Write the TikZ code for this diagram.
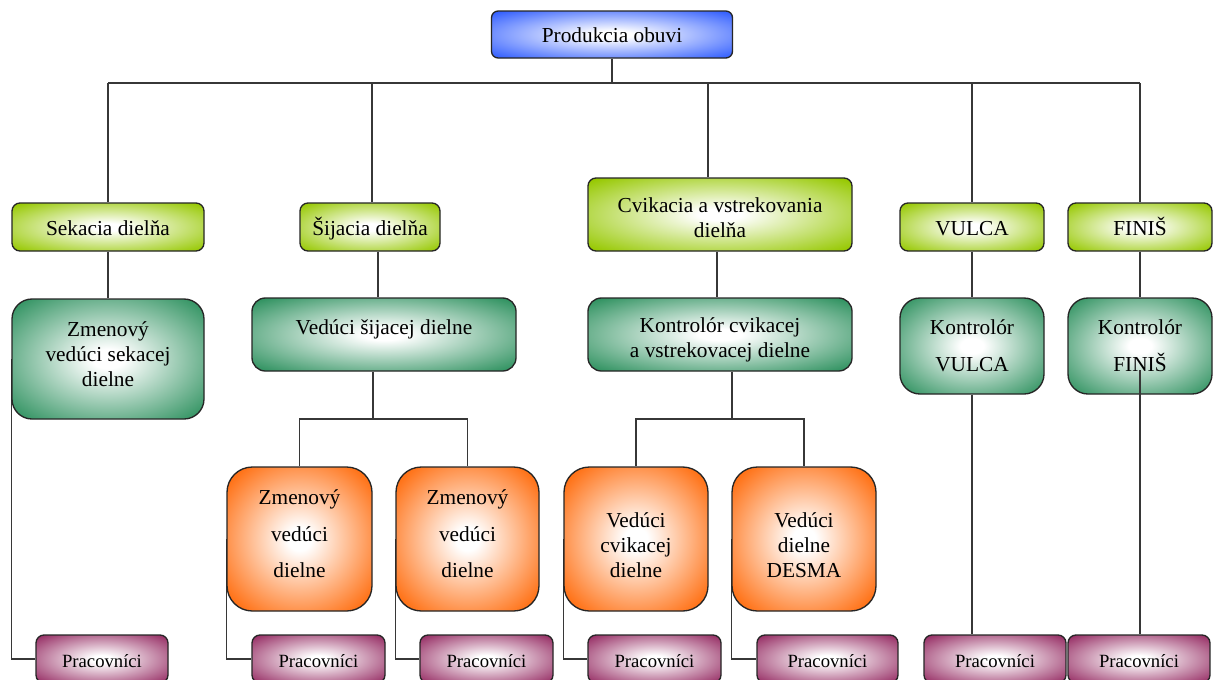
\documentclass[tikz,border=0pt]{standalone}
\usepackage{fontspec}
\setmainfont{Liberation Serif}
\usetikzlibrary{backgrounds,calc}

% box colours
\definecolor{cblue}{RGB}{51,95,255}
\definecolor{clgreen}{RGB}{150,200,0}
\definecolor{cdgreen}{RGB}{46,145,95}
\definecolor{corange}{RGB}{255,100,0}
\definecolor{cpurple}{RGB}{150,45,100}
\definecolor{cline}{RGB}{55,55,55}

% white centre fading out to the box colour
\pgfdeclareradialshading{glowblue}{\pgfpointorigin}{color(0bp)=(white); color(4bp)=(white); color(34bp)=(cblue); color(50bp)=(cblue)}
\pgfdeclareradialshading{glowlgreen}{\pgfpointorigin}{color(0bp)=(white); color(4bp)=(white); color(34bp)=(clgreen); color(50bp)=(clgreen)}
\pgfdeclareradialshading{glowdgreen}{\pgfpointorigin}{color(0bp)=(white); color(4bp)=(white); color(34bp)=(cdgreen); color(50bp)=(cdgreen)}
\pgfdeclareradialshading{gloworange}{\pgfpointorigin}{color(0bp)=(white); color(4bp)=(white); color(34bp)=(corange); color(50bp)=(corange)}
\pgfdeclareradialshading{glowpurple}{\pgfpointorigin}{color(0bp)=(white); color(4bp)=(white); color(34bp)=(cpurple); color(50bp)=(cpurple)}

\tikzset{
  org/.style={draw=black!85, line width=1pt, align=center, inner sep=2pt,
              font=\fontsize{16}{18.75}\selectfont},
  dim/.style 2 args={minimum width=#1*0.75pt, minimum height=#2*0.75pt},
  oneline/.style={text height=13pt, text depth=1pt},
  topbox/.style={org, oneline, shading=glowblue, rounded corners=5pt},
  deptbox/.style={org, shading=glowlgreen, rounded corners=6pt},
  chiefbox/.style={org, shading=glowdgreen, rounded corners=10pt},
  tallchief/.style={org, shading=glowdgreen, rounded corners=15pt},
  leadbox/.style={org, shading=gloworange, rounded corners=19pt},
  crewbox/.style={org, oneline, shading=glowpurple, rounded corners=6pt,
                  font=\fontsize{14}{16}\selectfont},
  airy/.style={font=\fontsize{16}{27.5}\selectfont},
  inbox/.style={align=center, inner sep=0pt, font=\fontsize{16}{18.75}\selectfont},
  linkline/.style={draw=cline, line width=0.9pt}
}

\begin{document}
\begin{tikzpicture}[x=0.75pt, y=-0.75pt]
\useasboundingbox (0,0) rectangle (1216,679);
\clip (0,0) rectangle (1216,679);

% top
\node[topbox, dim={241}{47}] (top) at (612,34.5) {Produkcia obuvi};

% workshops
\node[deptbox, oneline, dim={192}{48}] (sek)  at (108,227)    {Sekacia dielňa};
\node[deptbox, oneline, dim={140}{48}] (sij)  at (370,227)    {Šijacia dielňa};
\node[deptbox, dim={264}{73}] (cvik) at (720,214.5)  {};
\node[deptbox, oneline, dim={144}{48}] (vul)  at (972,227)    {VULCA};
\node[deptbox, oneline, dim={144}{48}] (fin)  at (1140,227)   {FINIŠ};

% workshop heads
\node[tallchief, dim={192}{120}] (zsek) at (108,359)   {};
\node[chiefbox,  dim={264}{73}]  (vsij) at (384,334.5) {};
\node[chiefbox,  dim={264}{73}]  (kcv)  at (720,334.5) {};
\node[tallchief, airy, dim={144}{96}] (kvul) at (972,346)  {Kontrolór\\VULCA};
\node[tallchief, airy, dim={144}{96}] (kfin) at (1140,346) {Kontrolór\\FINIŠ};

% shift leaders
\node[leadbox, dim={145}{144}] (o1) at (299.5,539) {};
\node[leadbox, dim={143}{144}] (o2) at (467.5,539) {};
\node[leadbox, dim={144}{144}] (o3) at (636,539) {};
\node[leadbox, dim={144}{144}] (o4) at (804,539) {};

% box captions set a little off centre
\node[inbox] (cvikt) at ($(cvik)+(0,3)$)   {Cvikacia a vstrekovania\\dielňa};
\node[inbox] (zsekt) at ($(zsek)+(0,-5)$)  {Zmenový\\vedúci sekacej\\dielne};
\node[inbox, text height=13pt, text depth=1pt] (vsijt) at ($(vsij)+(0,-8)$) {Vedúci šijacej dielne};
\node[inbox] (kcvt)  at ($(kcv)+(0,5)$)    {Kontrolór cvikacej\\a vstrekovacej dielne};
\node[inbox, airy] (o1t) at ($(o1)+(0,-5)$) {Zmenový\\vedúci\\dielne};
\node[inbox, airy] (o2t) at ($(o2)+(0,-5)$) {Zmenový\\vedúci\\dielne};
\node[inbox] (o3t) at ($(o3)+(0,6)$) {Vedúci\\cvikacej\\dielne};
\node[inbox] (o4t) at ($(o4)+(0,6)$) {Vedúci\\dielne\\DESMA};

% workers
\node[crewbox, dim={132}{48}] (p1) at (102,659)   {Pracovníci};
\node[crewbox, dim={133}{48}] (p2) at (318.5,659) {Pracovníci};
\node[crewbox, dim={133}{48}] (p3) at (486.5,659) {Pracovníci};
\node[crewbox, dim={133}{48}] (p4) at (654.5,659) {Pracovníci};
\node[crewbox, dim={141}{48}] (p5) at (827.5,659) {Pracovníci};
\node[crewbox, dim={142}{48}] (p6) at (995,659)   {Pracovníci};
\node[crewbox, dim={142}{48}] (p7) at (1139,659)  {Pracovníci};

% junction points
\coordinate (bus0) at (612,83);
\coordinate (bus1) at (108,83);
\coordinate (bus2) at (372,83);
\coordinate (bus3) at (708,83);
\coordinate (bus4) at (972,83);
\coordinate (bus5) at (1140,83);
\coordinate (c1) at (378,275);
\coordinate (c2) at (717,275);
\coordinate (j1) at (373,419);
\coordinate (j2) at (732,419);
\coordinate (kf) at (1140,370);

\begin{scope}[on background layer]
  \fill[white] (0,0) rectangle (1216,679);
  \draw[linkline] (top.south) -- (bus0);
  \draw[linkline] (bus1) -- (bus5);
  \draw[linkline] (bus1) -- (sek.north);
  \draw[linkline] (bus2) -- (sij.north -| bus2);
  \draw[linkline] (bus3) -- (cvik.north -| bus3);
  \draw[linkline] (bus4) -- (vul.north);
  \draw[linkline] (bus5) -- (fin.north);
  \draw[linkline] (sek.south) -- (zsek.north);
  \draw[linkline] (sij.south -| c1) -- (vsij.north -| c1);
  \draw[linkline] (cvik.south -| c2) -- (kcv.north -| c2);
  \draw[linkline] (vul.south) -- (kvul.north);
  \draw[linkline] (fin.south) -- (kfin.north);
  \draw[linkline] (vsij.south -| j1) -- (j1);
  \draw[linkline] (o1.north) |- (j1) -| (o2.north);
  \draw[linkline] (kcv.south -| j2) -- (j2);
  \draw[linkline] (o3.north) |- (j2) -| (o4.north);
  \draw[linkline] (zsek.west) |- (p1.west);
  \draw[linkline] (o1.west) |- (p2.west);
  \draw[linkline] (o2.west) |- (p3.west);
  \draw[linkline] (o3.west) |- (p4.west);
  \draw[linkline] (o4.west) |- (p5.west);
  \draw[linkline] (kvul.south) -- (p6.north -| kvul.south);
\end{scope}

% this one runs over the box above it
\draw[linkline] (kf) -- (p7.north -| kf);

\end{tikzpicture}
\end{document}
